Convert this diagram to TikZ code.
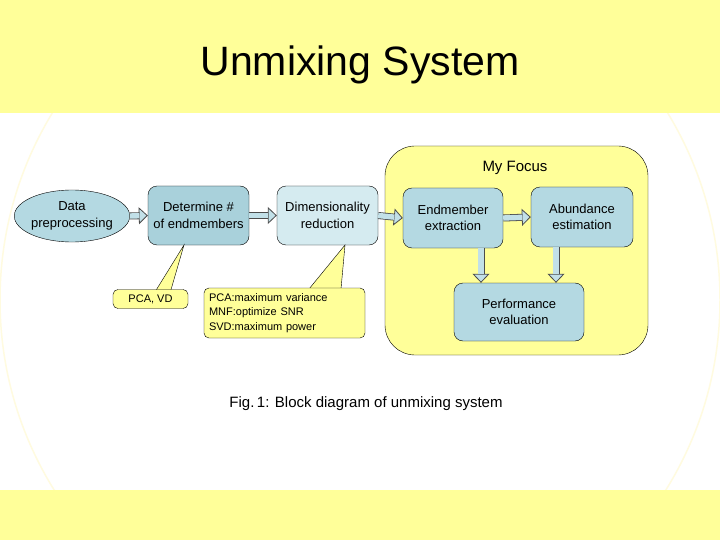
\documentclass[tikz,border=0pt]{standalone}
\usepackage{fontspec}
\setmainfont{Liberation Sans}
\usetikzlibrary{arrows.meta,shapes.geometric,calc}
\definecolor{band}{HTML}{FFFF99}
\definecolor{faint}{HTML}{FFFBE0}
\definecolor{bA}{HTML}{B4D9E2}
\definecolor{bB}{HTML}{A9D1DB}
\definecolor{bC}{HTML}{D5EBF0}
\definecolor{afill}{HTML}{C2E0E8}
\tikzset{
 box/.style={draw, rounded corners=9pt, fill=bA, align=center, font=\fontsize{13}{16.5}\selectfont, inner sep=0pt},
 barrow/.style={line width=7pt, draw=black!70, -{Triangle[length=9pt,width=17pt,line width=0.8pt,fill=afill]},
   postaction={draw=afill, line width=5.4pt, -, shorten >=8.5pt}},
 callout/.style={draw, fill=band, rounded corners=5pt, font=\fontsize{11}{14.5}\selectfont, align=left, inner sep=0pt}
}
\begin{document}
\begin{tikzpicture}[x=1pt,y=-1pt]
\useasboundingbox (0,0) rectangle (720,540);
\fill[white] (0,0) rectangle (720,540);
\draw[faint, line width=1.5pt] (360,300) circle (360);
\fill[band] (0,0) rectangle (720,113);
\fill[band] (0,490) rectangle (720,540);
\node[font=\fontsize{41}{48}\selectfont] (title) at (360,65) {Unmixing System};
\node[draw, fill=band, rounded corners=30pt, minimum width=263pt, minimum height=209pt] (focus) at (516.5,250.5) {};
\node[font=\fontsize{15}{18}\selectfont] (fl) at (515,168) {My Focus};
\node[ellipse, draw, fill=bA, minimum width=96pt, minimum height=52pt, inner sep=0pt, align=center, font=\fontsize{13}{16.5}\selectfont] (data) at (72,216) {Data\\preprocessing};
\node[box, fill=bB, minimum width=101pt, minimum height=59pt] (det) at (198.5,215.5) {Determine \#\\of endmembers};
\node[box, fill=bC, minimum width=101pt, minimum height=59pt] (dim) at (327.5,215.5) {Dimensionality\\reduction};
\node[box, minimum width=100pt, minimum height=60pt] (end) at (453,218) {Endmember\\extraction};
\node[box, minimum width=102pt, minimum height=60pt] (ab) at (582,217) {Abundance\\estimation};
\node[box, minimum width=130pt, minimum height=58pt] (perf) at (519,312) {Performance\\evaluation};
\draw[barrow] (data.east) -- (det.west);
\draw[barrow] (det.east) -- (dim.west);
\draw[barrow] (dim.east) -- (end.west);
\draw[barrow] (end.east) -- (ab.west);
\draw[barrow] (end.south -| 481,0) -- (perf.north -| 481,0);
\draw[barrow] (ab.south -| 556,0) -- (perf.north -| 556,0);
% callouts
\coordinate (t1) at (184,245);
\draw[fill=band] (150,300) -- (t1) -- (168,300) -- cycle;
\node[callout, minimum width=75pt, minimum height=19pt, align=center] (c1) at (150.5,299) {PCA, VD};
\fill[band] (150.6,292) -- (167.4,292) -- (167.4,290.2) -- (150.6,290.2) -- cycle;
\coordinate (t2) at (345,245);
\draw[fill=band] (300,300) -- (t2) -- (340,300) -- cycle;
\node[callout, minimum width=161pt, minimum height=50pt, text width=151pt] (c2) at (284.5,313) {PCA:maximum variance\\MNF:optimize SNR\\SVD:maximum power};
\fill[band] (300.7,292) -- (339.3,292) -- (339.3,288.7) -- (300.7,288.7) -- cycle;
\node[font=\fontsize{15}{18}\selectfont] (cap) at (366,404) {Fig.\,1: Block diagram of unmixing system};
\end{tikzpicture}
\end{document}
